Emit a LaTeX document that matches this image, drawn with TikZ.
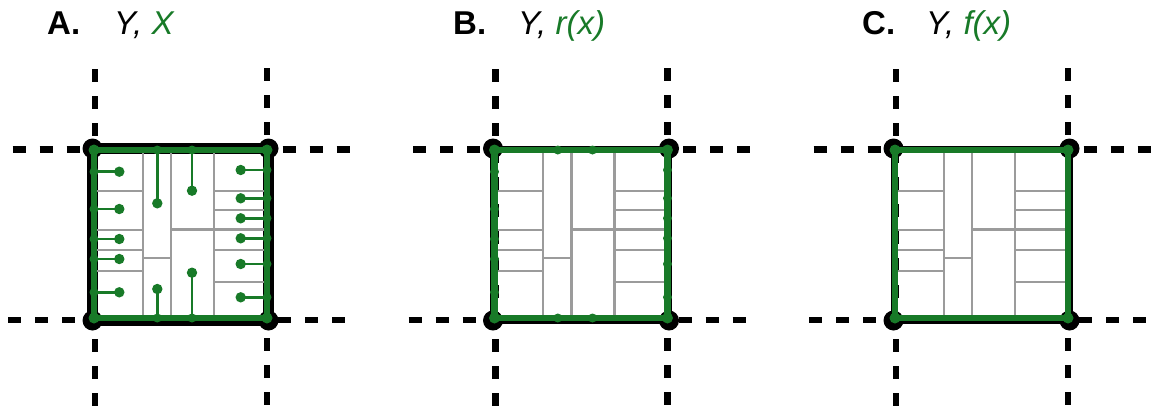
\documentclass[tikz,border=0pt]{standalone}
\usepackage{fontspec}
\setmainfont{Liberation Sans}
\definecolor{grn}{RGB}{24,122,40}
\definecolor{gridgray}{RGB}{155,155,155}
\begin{document}
\begin{tikzpicture}[x=1pt,y=-1pt,
  dashln/.style={black, line width=6.5pt, dash pattern=on 13pt off 14pt},
  gridln/.style={gridgray, line width=2.3pt},
  gline/.style={grn, line width=2.6pt},
  gsq/.style={grn, line width=6.5pt},
  ttl/.style={anchor=base west, inner sep=0pt, font=\fontsize{33}{36}\selectfont\bfseries},
  sub/.style={anchor=base west, inner sep=0pt, font=\fontsize{33}{36}\selectfont\itshape}]
\useasboundingbox[fill=white] (0,0) rectangle (1151,410);

\newcommand\basepanel[1]{%
  % dashed grid lines
  \draw[dashln] (-81.3,-0.5) -- (256,-0.5);
  \draw[dashln] (-86,170) -- (252,170);
  \draw[dashln] (1,-81) -- (1,257);
  \draw[dashln] (173,-82) -- (173,257);
  % black square and corner dots
  \draw[black, line width=#1, line join=round] (-1.5,-1.5) rectangle (174.5,170.5);
  \foreach \cx/\cy in {-1.5/-1.5,174.5/-1.5,-1.5/170.5,174.5/170.5}
    \fill[black] (\cx,\cy) circle (10pt);
  % gray partition
  \draw[gridln] (48.7,0) -- (48.7,168) (77,0) -- (77,168) (120,0) -- (120,168);
  \foreach \yy in {40.7,80,100,120.7} \draw[gridln] (0,\yy) -- (48.7,\yy);
  \draw[gridln] (48.7,108.3) -- (77,108.3);
  \draw[gridln] (77,79.5) -- (173,79.5);
  \foreach \yy in {40.7,60,100,132.3} \draw[gridln] (120,\yy) -- (173,\yy);
  % green square and corner dots
  \draw[gsq, line join=miter] (0,0) rectangle (173,168);
  \foreach \cx/\cy in {0/0,173/0,0/168,173/168}
    \fill[grn] (\cx,\cy) circle (5.5pt);
}

% ---------- Panel A ----------
\node[ttl] (tA) at (47,34) {A.};
\node[sub] (sA) at (114,34) {Y, \textcolor{grn}{X}};
\begin{scope}[shift={(94,150)}]
  \basepanel{11pt}
  \foreach \yy in {21.7,59,89,109,142.3}{
    \draw[gline] (0,\yy) -- (25.3,\yy);
    \fill[grn] (0,\yy) circle (4.5pt) (25.3,\yy) circle (5.2pt);}
  \foreach \yy in {20,48.3,68.3,88.3,114,147.3}{
    \draw[gline] (173,\yy) -- (146.7,\yy);
    \fill[grn] (173,\yy) circle (4.5pt) (146.7,\yy) circle (5.2pt);}
  \draw[gline] (63.3,0) -- (63.3,53.3) (63.3,168) -- (63.3,139)
               (98,0) -- (98,40.7) (98,168) -- (98,122.7);
  \fill[grn] (63.3,0) circle (4.5pt) (63.3,53.3) circle (5.2pt)
             (63.3,168) circle (4.5pt) (63.3,139) circle (5.2pt)
             (98,0) circle (4.5pt) (98,40.7) circle (5.2pt)
             (98,168) circle (4.5pt) (98,122.7) circle (5.2pt);
\end{scope}

% ---------- Panel B ----------
\node[ttl] (tB) at (453,34) {B.};
\node[sub] (sB) at (518,34) {Y, \textcolor{grn}{r(x)}};
\begin{scope}[shift={(494.5,150)}]
  \basepanel{6pt}
  \foreach \yy in {21.7,59,89,109,142.3} \fill[grn] (0,\yy) circle (4.5pt);
  \foreach \yy in {20,48.3,68.3,88.3,114,147.3} \fill[grn] (173,\yy) circle (4.5pt);
  \foreach \xx in {63.3,98} \fill[grn] (\xx,0) circle (4.5pt) (\xx,168) circle (4.5pt);
\end{scope}

% ---------- Panel C ----------
\node[ttl] (tC) at (862,34) {C.};
\node[sub] (sC) at (926,34) {Y, \textcolor{grn}{f(x)}};
\begin{scope}[shift={(895,150)}]
  \basepanel{6pt}
\end{scope}
\end{tikzpicture}
\end{document}
